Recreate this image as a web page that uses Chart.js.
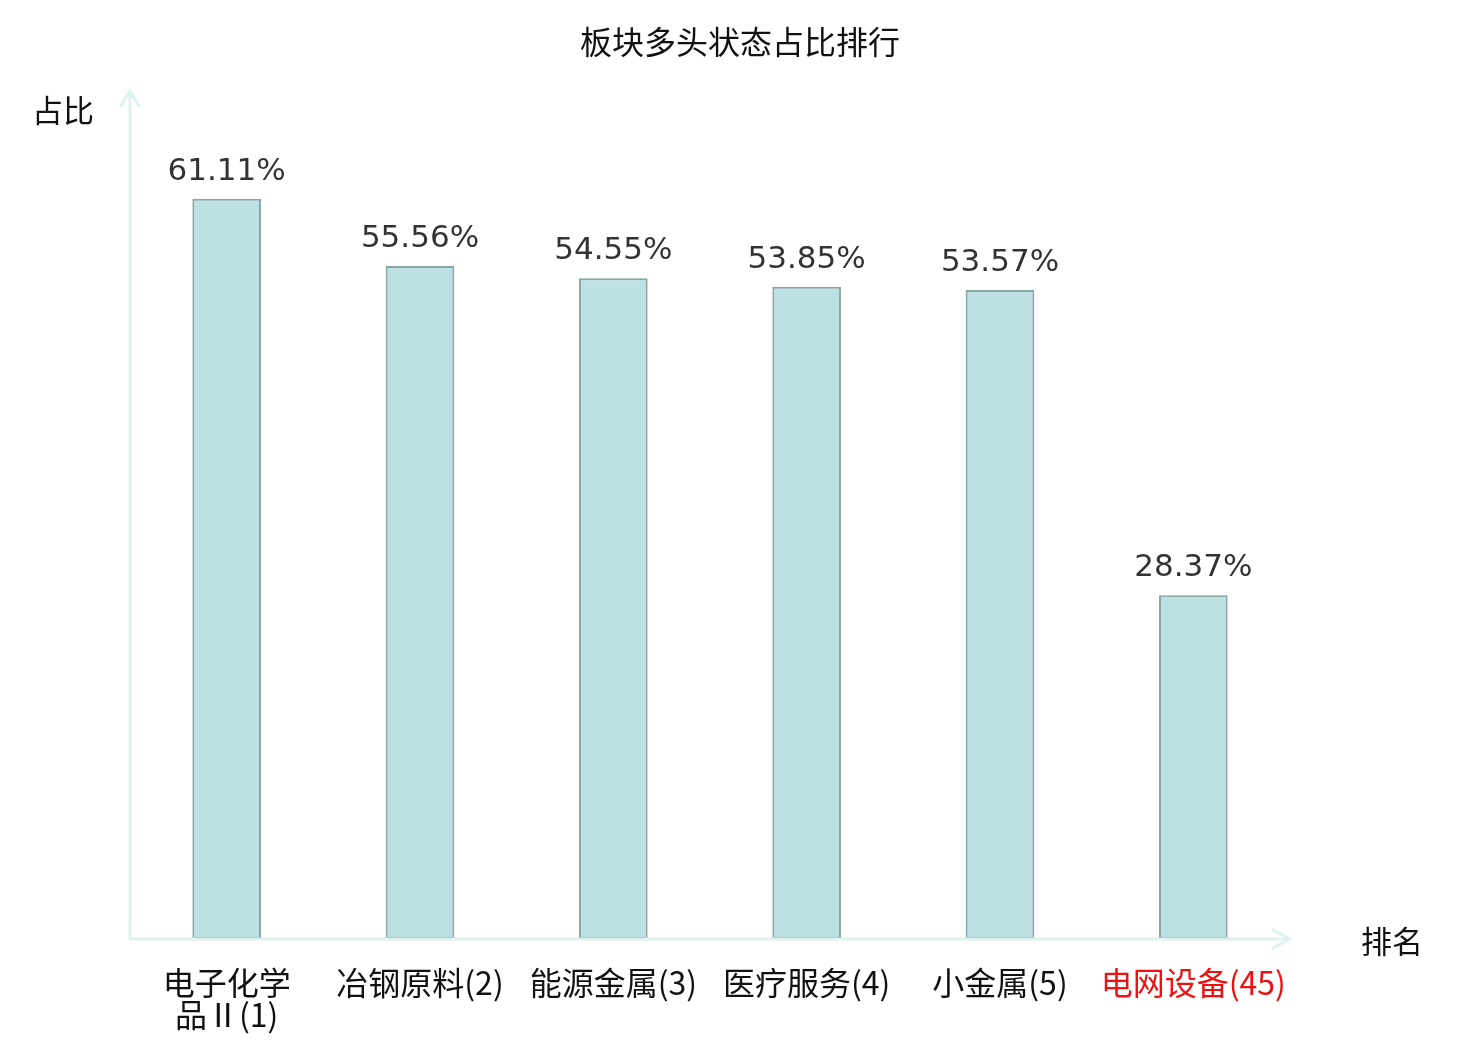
<!DOCTYPE html>
<html>
<head>
<meta charset="utf-8">
<script src="https://cdn.jsdelivr.net/npm/chart.js@4"></script>
<style>
  body { margin: 0; background: #fff; }
</style>
</head>
<body>
<canvas id="rankChart" width="1480" height="1040"></canvas>
<script>
const categories = [['电子化学', '品Ⅱ(1)'], '冶钢原料(2)', '能源金属(3)', '医疗服务(4)', '小金属(5)', '电网设备(45)'];
const shares = [61.11, 55.56, 54.55, 53.85, 53.57, 28.37];
const highlightIndex = 5;
const yMax = 70;

const cjk = '"Noto Sans CJK SC", "Noto Sans", sans-serif';
const axisColor = '#dff2ef';

// axis lines with arrow heads, axis names, title and value labels
const decorations = {
  id: 'decorations',
  afterDatasetsDraw(chart) {
    const { ctx, chartArea } = chart;
    const left = chartArea.left, bottom = chartArea.bottom;
    const top = chartArea.top, right = chartArea.right;
    ctx.save();
    ctx.strokeStyle = axisColor;
    ctx.lineWidth = 3;
    ctx.lineCap = 'round';
    ctx.beginPath();
    ctx.moveTo(left, bottom);
    ctx.lineTo(left, top);
    ctx.moveTo(left - 9, top + 15);
    ctx.lineTo(left, top);
    ctx.lineTo(left + 9, top + 15);
    ctx.moveTo(left, bottom);
    ctx.lineTo(right, bottom);
    ctx.moveTo(right - 17, bottom - 9);
    ctx.lineTo(right, bottom);
    ctx.lineTo(right - 17, bottom + 9);
    ctx.stroke();

    ctx.fillStyle = '#111';
    ctx.textAlign = 'center';
    ctx.textBaseline = 'middle';
    ctx.font = '32px ' + cjk;
    ctx.fillText('板块多头状态占比排行', 740, 42);
    ctx.font = '31px ' + cjk;
    ctx.fillText('占比', 63, 110);
    ctx.fillText('排名', 1392, 941);

    ctx.fillStyle = '#333';
    ctx.font = '31px "DejaVu Sans", sans-serif';
    ctx.textBaseline = 'alphabetic';
    chart.getDatasetMeta(0).data.forEach((bar, i) => {
      ctx.fillText(shares[i].toFixed(2) + '%', bar.x, bar.y - 19);
    });
    ctx.restore();
  }
};

new Chart(document.getElementById('rankChart'), {
  type: 'bar',
  data: {
    labels: categories,
    datasets: [{
      data: shares,
      backgroundColor: '#bce0e3',
      borderColor: '#8aa7a8',
      borderWidth: 2,
      borderSkipped: false,
      categoryPercentage: 1,
      barPercentage: 0.355
    }]
  },
  options: {
    responsive: false,
    devicePixelRatio: 1,
    animation: false,
    layout: { padding: { left: 130, right: 190, top: 91, bottom: 0 } },
    plugins: {
      legend: { display: false },
      tooltip: { enabled: false }
    },
    scales: {
      x: {
        grid: { display: false, drawTicks: false },
        border: { display: false },
        afterFit: s => { s.height = 101; },
        ticks: {
          padding: 28,
          maxRotation: 0,
          autoSkip: false,
          font: { family: cjk, size: 32, lineHeight: 1.0 },
          color: c => (c.index === highlightIndex ? '#ee1111' : '#111')
        }
      },
      y: {
        display: false,
        min: 0,
        max: yMax
      }
    }
  },
  plugins: [decorations]
});
</script>
</body>
</html>
